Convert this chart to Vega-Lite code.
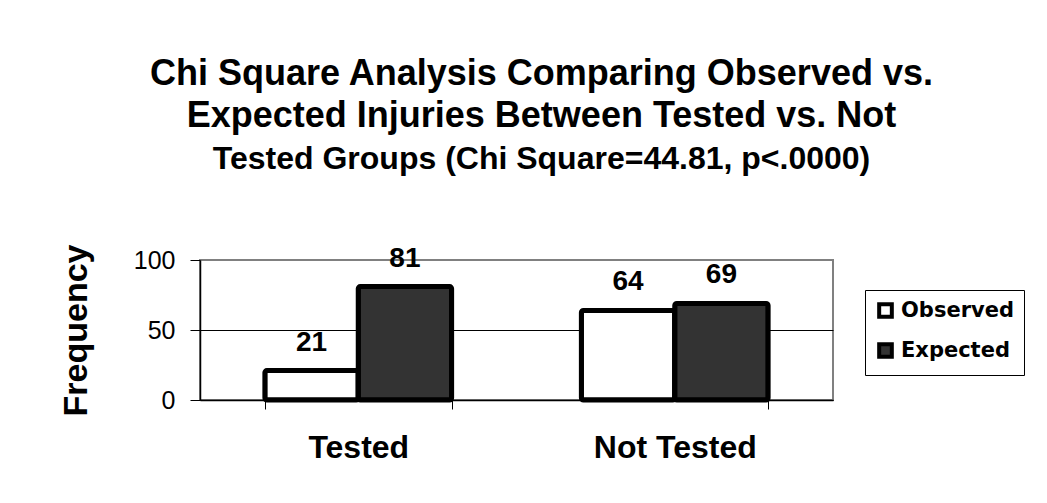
{
  "$schema": "https://vega.github.io/schema/vega-lite/v6.json",
  "width": 633,
  "height": 140,
  "autosize": {"type": "none"},
  "padding": {"left": 200, "top": 260, "right": 214, "bottom": 103},
  "background": "white",
  "config": {
    "font": "Liberation Sans",
    "view": {"stroke": "#808080", "strokeWidth": 2}
  },
  "title": {
    "text": ["Chi Square Analysis Comparing Observed vs.", "Expected Injuries Between Tested vs. Not"],
    "subtitle": "Tested Groups (Chi Square=44.81, p<.0000)",
    "anchor": "middle",
    "frame": "group",
    "dx": 25,
    "offset": 68,
    "font": "Liberation Sans",
    "fontSize": 36,
    "fontWeight": "bold",
    "lineHeight": 42,
    "color": "black",
    "subtitleFont": "Liberation Sans",
    "subtitleFontSize": 32,
    "subtitleFontWeight": "bold",
    "subtitleColor": "black",
    "subtitlePadding": 9
  },
  "data": {
    "values": [
      {"group": "Tested", "type": "Observed", "freq": 21},
      {"group": "Tested", "type": "Expected", "freq": 81},
      {"group": "Not Tested", "type": "Observed", "freq": 64},
      {"group": "Not Tested", "type": "Expected", "freq": 69}
    ]
  },
  "encoding": {
    "x": {
      "field": "group",
      "type": "nominal",
      "sort": ["Tested", "Not Tested"],
      "scale": {"paddingInner": 0.41, "paddingOuter": 0.205},
      "axis": {
        "title": null,
        "labelAngle": 0,
        "labelFont": "Liberation Sans",
        "labelFontSize": 32,
        "labelFontWeight": "bold",
        "labelColor": "black",
        "labelPadding": 23,
        "tickBand": "extent",
        "tickSize": 9,
        "tickColor": "black",
        "domainColor": "black",
        "domainWidth": 1.5,
        "grid": false
      }
    },
    "xOffset": {"field": "type", "type": "nominal", "sort": ["Observed", "Expected"]},
    "y": {
      "field": "freq",
      "type": "quantitative",
      "scale": {"domain": [0, 100]},
      "axis": {
        "title": "Frequency",
        "titleFont": "Liberation Sans",
        "titleFontSize": 34,
        "titleFontWeight": "bold",
        "titleColor": "black",
        "titlePadding": 40,
        "values": [0, 50, 100],
        "labelFont": "Liberation Sans",
        "labelFontSize": 25,
        "labelColor": "black",
        "labelPadding": 15,
        "tickSize": 10,
        "tickColor": "black",
        "domainColor": "black",
        "domainWidth": 1.5,
        "gridColor": {"condition": {"test": "datum.value === 100", "value": "#808080"}, "value": "black"},
        "gridWidth": 1
      }
    }
  },
  "layer": [
    {
      "mark": {"type": "bar", "stroke": "black", "strokeWidth": 5, "cornerRadius": 2},
      "encoding": {
        "fill": {
          "field": "type",
          "type": "nominal",
          "scale": {"domain": ["Observed", "Expected"], "range": ["white", "#333333"]},
          "legend": {
            "title": null,
            "orient": "none",
            "legendX": 665,
            "legendY": 30,
            "strokeColor": "black",
            "fillColor": "white",
            "padding": 10,
            "symbolType": "square",
            "symbolSize": 160,
            "symbolStrokeColor": "black",
            "symbolStrokeWidth": 4,
            "labelFont": "DejaVu Sans",
            "labelFontSize": 21,
            "labelFontWeight": "bold",
            "labelColor": "black",
            "rowPadding": 11,
            "labelOffset": 5
          }
        }
      }
    },
    {
      "mark": {"type": "text", "font": "Liberation Sans", "fontSize": 28, "fontWeight": "bold", "color": "black", "baseline": "middle", "dy": -28},
      "encoding": {
        "text": {"field": "freq", "type": "quantitative"}
      }
    }
  ]
}
